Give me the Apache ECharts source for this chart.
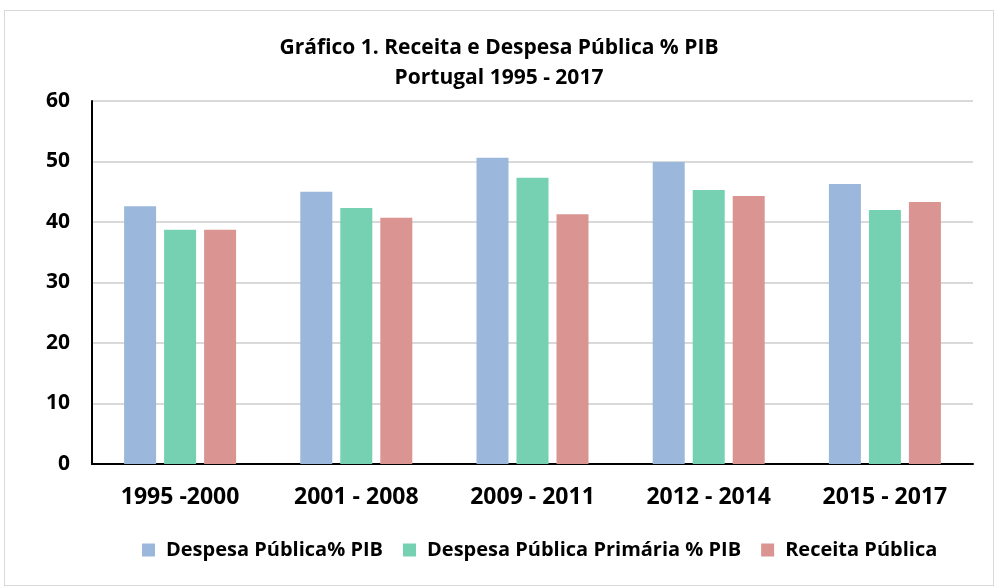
<!DOCTYPE html>
<html>
<head>
<meta charset="utf-8">
<script src="https://cdn.jsdelivr.net/npm/echarts@6/dist/echarts.min.js"></script>
<style>
  html, body { margin: 0; padding: 0; background: #fff; }
  #chart { position: absolute; left: 4px; top: 10px; width: 990px; height: 576px; border: 1px solid #d9d9d9; box-sizing: border-box; }
</style>
</head>
<body>
<div id="chart"></div>
<script>
const categories = ['1995 -2000', '2001 - 2008', '2009 - 2011', '2012 - 2014', '2015 - 2017']
const despesa = [42.6, 45.0, 50.6, 49.9, 46.3]
const despesaPrimaria = [38.7, 42.3, 47.3, 45.3, 42.0]
const receita = [38.7, 40.7, 41.3, 44.3, 43.3]
const seriesNames = ['Despesa Pública% PIB', 'Despesa Pública Primária % PIB', 'Receita Pública']
const colors = ['#9bb7db', '#75d1b2', '#da9593']

const FONT = "'Open Sans', 'Noto Sans', sans-serif"

const chart = echarts.init(document.getElementById('chart'))

const makeBar = (name, data, i) => ({
  name: name,
  type: 'bar',
  data: data,
  barWidth: 32,
  barGap: '25%',
  itemStyle: { color: colors[i] }
})

chart.setOption({
  animation: false,
  color: colors,
  title: {
    text: 'Gráfico 1. Receita e Despesa Pública % PIB\nPortugal 1995 - 2017',
    left: 'center',
    top: 17,
    textStyle: { fontFamily: FONT, fontSize: 21, fontWeight: 'bold', color: '#000', lineHeight: 30 }
  },
  legend: {
    bottom: 20,
    left: 132,
    itemWidth: 13,
    itemHeight: 13,
    itemGap: 20,
    icon: 'rect',
    textStyle: { fontFamily: FONT, fontSize: 20, fontWeight: 'bold', color: '#000', padding: [0, 0, 0, 6] },
    data: seriesNames
  },
  grid: { left: 87, right: 20, top: 90, bottom: 121, containLabel: false },
  xAxis: {
    type: 'category',
    data: categories,
    axisLine: { lineStyle: { color: '#000', width: 2 } },
    axisTick: { show: false },
    axisLabel: { fontFamily: FONT, fontSize: 23, fontWeight: 'bold', color: '#000', margin: 22 }
  },
  yAxis: {
    type: 'value',
    min: 0,
    max: 60,
    interval: 10,
    axisLine: { show: true, lineStyle: { color: '#000', width: 2 } },
    axisTick: { show: false },
    splitLine: { lineStyle: { color: '#d9d9d9', width: 2 } },
    axisLabel: { fontFamily: FONT, fontSize: 21, fontWeight: 'bold', color: '#000', margin: 22 }
  },
  series: [
    makeBar(seriesNames[0], despesa, 0),
    makeBar(seriesNames[1], despesaPrimaria, 1),
    makeBar(seriesNames[2], receita, 2)
  ]
})
</script>
</body>
</html>
